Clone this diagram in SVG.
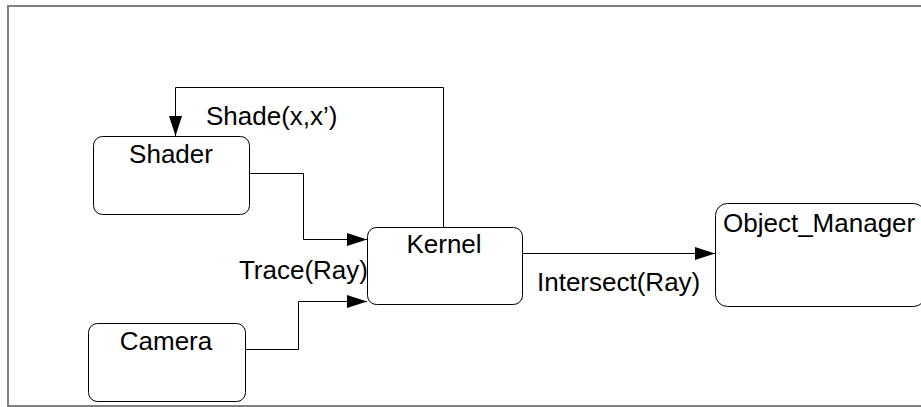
<svg xmlns="http://www.w3.org/2000/svg" width="921" height="407" viewBox="0 0 921 407">
  <defs>
    <marker id="arrow" markerUnits="userSpaceOnUse" markerWidth="20" markerHeight="14" refX="20" refY="7" orient="auto">
      <path d="M0,0.5 L20,7 L0,13.5 Z" fill="#000"/>
    </marker>
  </defs>
  <style>
    .frame { fill: none; stroke: #808080; stroke-width: 2; }
    .node { fill: #fff; stroke: #000; stroke-width: 1; }
    .edge { fill: none; stroke: #000; stroke-width: 1; }
    .label { font-family: "Liberation Sans", Arial, sans-serif; font-size: 26px; fill: #000; }
  </style>

  <rect width="921" height="407" fill="#fff"/>
  <!-- outer frame (open on the right) -->
  <path class="frame" d="M921,6 H8 V406 H921"/>

  <g id="connectors">
    <!-- Kernel feeds back to Shader -->
    <path class="edge" d="M443.5,227 V87.5 H175.5 V136" marker-end="url(#arrow)"/>
    <!-- Shader to Kernel -->
    <path class="edge" d="M249,173.5 H303.5 V239.5 H367" marker-end="url(#arrow)"/>
    <!-- Camera to Kernel -->
    <path class="edge" d="M245,349.5 H298.5 V301.5 H367" marker-end="url(#arrow)"/>
    <!-- Kernel to Object_Manager -->
    <path class="edge" d="M522,253.5 H715" marker-end="url(#arrow)"/>
    <text class="label" x="206" y="125">Shade(x,x’)</text>
    <text class="label" x="368" y="279" text-anchor="end">Trace(Ray)</text>
    <text class="label" x="537" y="291">Intersect(Ray)</text>
  </g>

  <g id="shader">
    <rect class="node" x="93.5" y="136.5" width="156" height="78" rx="9"/>
    <text class="label" x="171" y="163" text-anchor="middle">Shader</text>
  </g>

  <g id="camera">
    <rect class="node" x="88.5" y="323.5" width="157" height="78" rx="9"/>
    <text class="label" x="166" y="350" text-anchor="middle">Camera</text>
  </g>

  <g id="kernel">
    <rect class="node" x="367.5" y="227.5" width="155" height="77" rx="9"/>
    <text class="label" x="444" y="253" text-anchor="middle">Kernel</text>
  </g>

  <g id="object_manager">
    <rect class="node" x="715.5" y="203.5" width="210" height="103" rx="12"/>
    <text class="label" x="723" y="232">Object_Manager</text>
  </g>
</svg>
